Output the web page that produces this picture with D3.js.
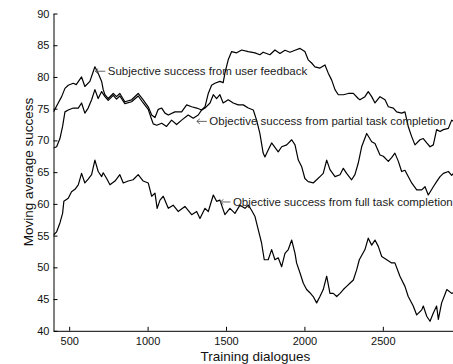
<!DOCTYPE html>
<html>
<head>
<meta charset="utf-8">
<script src="https://cdn.jsdelivr.net/npm/d3@7"></script>
<style>
  html, body { margin: 0; padding: 0; background: #fff; }
  svg { display: block; }
  text { font-family: "Liberation Sans", Arial, Helvetica, sans-serif; }
</style>
</head>
<body>
<svg id="chart" width="453" height="364"></svg>
<script>
// Moving-average success rate over training dialogues, three success measures
const xTicks = [500, 1000, 1500, 2000, 2500];
const yTicks = [40, 45, 50, 55, 60, 65, 70, 75, 80, 85, 90];

const subjX = [400,430,452,473,494,526,545,579,600,632,664,685,707,717,728,749,781,802,823,855,898,940,972,1004,1026,1047,1068,1090,1111,1132,1174,1217,1249,1281,1313,1345,1366,1387,1408,1429,1461,1482,1493,1514,1536,1568,1600,1642,1685,1716,1737,1780,1812,1844,1876,1908,1940,1972,2003,2024,2046,2067,2099,2131,2152,2174,2195,2216,2248,2280,2312,2343,2354,2386,2407,2429,2450,2482,2514,2535,2567,2588,2620,2641,2662,2684,2705,2737,2758,2780,2801,2822,2843,2865,2886,2918,2939,2950];
const subjY = [74.5,75.9,76.9,78.2,78.7,79.0,78.8,80.0,78.5,79.3,81.6,80.6,79.3,78.0,77.2,76.6,77.4,76.9,77.4,76.1,76.4,77.4,76.4,75.3,74.0,73.6,74.9,75.1,74.3,74.0,74.5,74.5,75.6,75.3,75.1,74.8,75.3,77.4,78.7,79.0,79.3,79.1,80.6,82.7,84.0,83.8,84.25,84.0,83.8,83.5,83.9,83.5,84.25,83.7,84.2,83.9,84.2,84.5,84.0,82.7,82.2,81.6,81.4,81.9,80.6,79.5,78.0,77.2,77.2,77.4,77.4,76.6,76.4,76.9,77.7,76.9,75.9,76.9,76.4,75.3,75.1,74.5,74.3,74.5,72.2,70.6,69.3,70.1,70.3,69.6,69.0,69.3,71.7,71.4,71.7,71.9,73.2,73.0];

const partX = [400,420,441,458,473,494,526,558,579,600,621,643,664,685,707,728,749,781,802,823,855,898,940,972,1004,1026,1036,1058,1090,1121,1153,1185,1217,1259,1291,1323,1345,1366,1398,1419,1440,1461,1482,1514,1546,1578,1610,1642,1674,1695,1716,1737,1748,1769,1791,1812,1833,1855,1887,1919,1940,1961,1982,2003,2024,2056,2078,2099,2120,2142,2163,2195,2227,2248,2269,2301,2322,2343,2365,2397,2429,2450,2482,2503,2535,2556,2577,2599,2620,2641,2662,2684,2716,2748,2769,2790,2822,2843,2865,2886,2918,2939,2950];
const partY = [68.8,69.0,70.3,72.2,74.5,74.8,75.1,75.1,75.9,74.3,75.1,76.4,78.0,76.6,77.7,76.9,76.3,77.1,76.5,77.0,75.8,76.1,77.0,75.9,74.9,73.3,72.6,72.4,72.7,72.2,73.2,72.5,73.2,74.0,73.5,74.0,74.8,75.1,75.9,77.2,76.6,77.2,75.9,76.4,75.9,75.6,75.6,75.1,74.8,73.2,71.1,68.0,67.4,68.5,69.6,68.9,68.2,69.0,69.3,70.1,69.3,66.9,65.9,64.0,63.5,63.3,63.8,64.3,64.8,66.9,65.4,64.3,64.6,65.6,64.8,63.8,64.6,66.4,69.0,71.1,69.8,69.5,67.7,67.5,66.7,67.3,68.0,66.7,65.1,65.3,64.3,63.3,62.2,62.2,62.7,61.4,62.7,63.5,64.3,64.8,65.1,64.5,64.8];

const fullX = [400,420,441,458,466,494,515,537,558,579,600,621,643,664,685,707,717,739,760,792,823,845,876,908,940,972,1004,1026,1047,1061,1079,1100,1132,1163,1195,1238,1281,1313,1334,1366,1387,1419,1440,1461,1493,1525,1557,1589,1621,1642,1663,1685,1706,1727,1744,1769,1791,1812,1833,1855,1876,1897,1919,1940,1950,1972,1993,2014,2035,2056,2078,2099,2120,2142,2163,2184,2206,2227,2248,2269,2290,2312,2333,2350,2386,2407,2429,2450,2471,2493,2525,2556,2577,2609,2641,2662,2694,2716,2748,2758,2780,2801,2822,2843,2854,2875,2891,2908,2939,2950];
const fullY = [55.1,55.6,57.0,58.5,60.4,60.9,61.9,62.3,63.0,64.8,63.3,63.9,64.6,66.9,65.1,64.3,64.9,64.0,63.0,63.6,64.6,63.3,63.6,63.8,64.6,63.6,63.3,61.2,61.7,59.3,60.6,61.2,59.3,59.8,58.8,59.6,58.3,58.8,57.7,59.3,58.8,61.4,60.4,60.6,58.3,59.3,58.5,59.8,59.3,59.8,59.0,58.0,55.9,53.8,51.2,51.2,52.8,51.2,51.5,50.1,52.2,52.8,54.3,52.2,50.7,49.1,47.5,46.5,46.0,45.4,44.4,45.4,46.5,48.6,45.9,45.9,45.4,45.9,46.5,47.0,47.5,48.0,49.6,51.2,52.8,54.6,53.5,54.3,53.3,51.7,51.2,50.7,50.7,48.6,47.0,45.4,43.9,42.5,43.3,43.9,42.3,41.5,42.8,43.9,41.8,44.4,45.4,46.5,45.9,46.0];

// Text annotations: label and the data point where its arrow tip sits
const annoText = [
  "Subjective success from user feedback",
  "Objective success from partial task completion",
  "Objective success from full task completion"
];
const annoX = [663, 1311, 1461];
const annoY = [80.9, 73.0, 60.3];

const svg = d3.select("#chart");
const plotL = 53.5, plotR = 453.4, plotT = 13.5, plotB = 330.8;

const x = d3.scaleLinear().domain([400, 2950]).range([plotL, plotR]);
const y = d3.scaleLinear().domain([40, 90]).range([plotB, plotT]);

svg.append("defs").append("clipPath").attr("id", "plotclip")
  .append("rect").attr("x", plotL).attr("y", plotT - 2)
  .attr("width", plotR - plotL).attr("height", plotB - plotT + 2);

// Axes with inward ticks
const xAxis = svg.append("g").attr("transform", `translate(0,${plotB})`)
  .call(d3.axisBottom(x).tickValues(xTicks).tickSizeInner(-4).tickSizeOuter(0).tickPadding(6).tickFormat(d3.format("d")));
const yAxis = svg.append("g").attr("transform", `translate(${plotL},0)`)
  .call(d3.axisLeft(y).tickValues(yTicks).tickSizeInner(-4).tickSizeOuter(0).tickPadding(4).tickFormat(d3.format("d")));

[xAxis, yAxis].forEach(g => {
  g.select(".domain").attr("stroke", "#000").attr("stroke-width", 1);
  g.selectAll(".tick line").attr("stroke", "#000").attr("stroke-width", 1);
  g.selectAll(".tick text").attr("fill", "#111").style("font-size", "11px")
    .style("font-family", '"Liberation Sans", Arial, sans-serif');
});

// Series lines
const line = d3.line().x(d => x(d[0])).y(d => y(d[1]));
const series = [
  d3.zip(subjX, subjY),
  d3.zip(partX, partY),
  d3.zip(fullX, fullY)
];
svg.append("g").attr("clip-path", "url(#plotclip)")
  .selectAll("path").data(series).join("path")
  .attr("d", line)
  .attr("fill", "none")
  .attr("stroke", "#000")
  .attr("stroke-width", 1.2)
  .attr("stroke-linejoin", "round");

// Annotations: a thin left arrow followed by the label
const annoG = svg.append("g").selectAll("g").data(annoText).join("g")
  .attr("transform", (d, i) => `translate(${x(annoX[i])},${y(annoY[i])})`);
annoG.append("path")
  .attr("d", "M0.5,0H10.5M3.5,-2.6L0.5,0L3.5,2.6")
  .attr("fill", "none")
  .attr("stroke", "#555")
  .attr("stroke-width", 0.9);
annoG.append("text")
  .attr("x", 13)
  .attr("dy", "0.35em")
  .attr("fill", "#222")
  .style("font-size", "11.5px")
  .text(d => d);

// Axis titles
svg.append("text")
  .attr("x", (plotL + plotR) / 2 + 2)
  .attr("y", 356)
  .attr("dy", "0.35em")
  .attr("text-anchor", "middle")
  .attr("fill", "#111")
  .style("font-size", "13.5px")
  .text("Training dialogues");

svg.append("text")
  .attr("transform", `translate(28,172) rotate(-90)`)
  .attr("dy", "0.35em")
  .attr("text-anchor", "middle")
  .attr("fill", "#111")
  .style("font-size", "13.5px")
  .text("Moving average success");
</script>
</body>
</html>
